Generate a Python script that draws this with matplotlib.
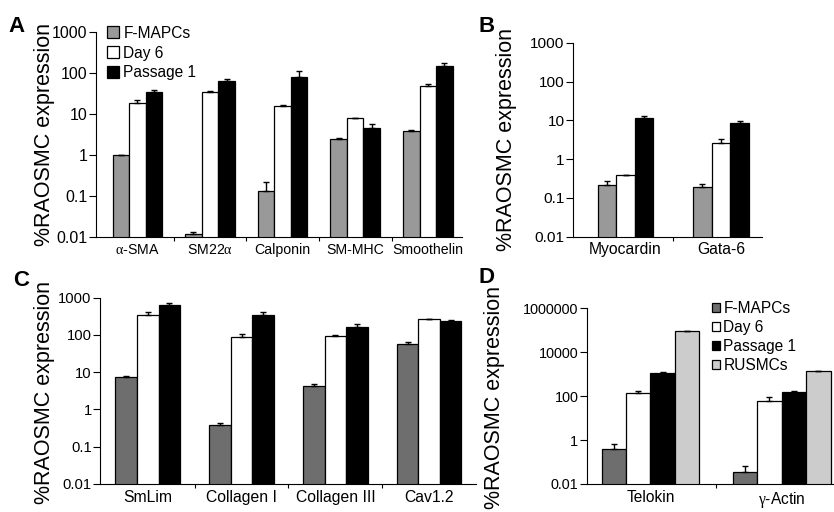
import numpy as np
import matplotlib
matplotlib.use('Agg')
from matplotlib import pyplot as plt

plt.rcParams['font.family'] = ['Liberation Sans', 'DejaVu Sans']
plt.rcParams['mathtext.fontset'] = 'custom'
plt.rcParams['mathtext.rm'] = 'Liberation Serif'
plt.rcParams['mathtext.it'] = 'Liberation Serif:italic'

# panel A
genes_a = [r'$\mathrm{\alpha}$-SMA', r'SM22$\mathrm{\alpha}$', 'Calponin', 'SM-MHC', 'Smoothelin']
fmapc_a = [1.0, 0.012, 0.13, 2.4, 3.9]
fmapc_a_err = [0.0, 0.001, 0.09, 0.2, 0.2]
day6_a = [19, 34, 15.5, 7.9, 48]
day6_a_err = [3, 3, 1.2, 0.3, 7]
p1_a = [34, 63, 81, 4.5, 146]
p1_a_err = [5, 10, 29, 1.2, 29]

# panel B
genes_b = ['Myocardin', 'Gata-6']
fmapc_b = [0.22, 0.195]
fmapc_b_err = [0.06, 0.035]
day6_b = [0.38, 2.6]
day6_b_err = [0.01, 0.6]
p1_b = [11.5, 8.5]
p1_b_err = [1.4, 1.1]

# panel C
genes_c = ['SmLim', 'Collagen I', 'Collagen III', 'Cav1.2']
fmapc_c = [7.6, 0.39, 4.3, 58]
fmapc_c_err = [0.3, 0.04, 0.4, 8]
day6_c = [344, 88, 92, 263]
day6_c_err = [60, 16, 10, 10]
p1_c = [640, 344, 166, 233]
p1_c_err = [60, 60, 30, 20]

# panel D
genes_d = ['Telokin', r'$\mathrm{\gamma}$-Actin']
fmapc_d = [0.39, 0.035]
fmapc_d_err = [0.3, 0.033]
day6_d = [135, 63]
day6_d_err = [38, 27]
p1_d = [1100, 155]
p1_d_err = [100, 25]
rus_d = [89000, 1350]
rus_d_err = [6000, 100]

names = ['F-MAPCs', 'Day 6', 'Passage 1', 'RUSMCs']

fig = plt.figure(figsize=(8.34, 5.12), dpi=100)


def panel(rect, genes, series, errs, colors, width, xlim, ylim, yticks, yticklabels,
          xfs, yfs, label_xy):
    ax = fig.add_axes(rect)
    x = np.arange(len(genes))
    n = len(series)
    for i, (vals, err, c) in enumerate(zip(series, errs, colors)):
        pos = x + (i - (n - 1) / 2) * width
        ax.bar(pos, vals, width, color=c, edgecolor='black', linewidth=0.9,
               label=names[i], zorder=2)
        ax.errorbar(pos, vals, yerr=[np.zeros(len(vals)), err], fmt='none',
                    ecolor='black', elinewidth=1, capsize=2, capthick=1, zorder=3)
    ax.set_yscale('log')
    ax.set_ylim(*ylim)
    ax.set_xlim(*xlim)
    ax.set_yticks(yticks)
    ax.set_yticklabels(yticklabels, fontsize=yfs)
    ax.minorticks_off()
    ax.set_xticks(x)
    ax.set_xticklabels(genes, fontsize=xfs)
    ax.tick_params(axis='x', length=0, pad=4)
    ax.tick_params(axis='y', length=5, width=0.8, pad=1)
    # small ticks between the gene groups
    ax.set_xticks(x[:-1] + 0.5, minor=True)
    ax.tick_params(axis='x', which='minor', length=3, width=0.8)
    for s in ['top', 'right']:
        ax.spines[s].set_visible(False)
    for s in ['left', 'bottom']:
        ax.spines[s].set_linewidth(0.8)
    ax.set_ylabel('%RAOSMC expression', fontsize=15.5)
    ax.yaxis.set_label_coords(*label_xy)
    return ax


dec = [0.01, 0.1, 1, 10, 100, 1000]
dec_lab = ['0.01', '0.1', '1', '10', '100', '1000']

axA = panel([0.1151, 0.5371, 0.4388, 0.4004], genes_a, [fmapc_a, day6_a, p1_a],
            [fmapc_a_err, day6_a_err, p1_a_err], ['#999999', 'white', 'black'],
            0.228, (-0.57, 4.47), (0.01, 1000), dec, dec_lab, 10.2, 11.5,
            (-0.112, 0.5))
axA.legend(loc='upper left', bbox_to_anchor=(0.03, 1.03), frameon=False, fontsize=11.2,
           handlelength=0.8, handleheight=0.8, handletextpad=0.25, labelspacing=0.3,
           borderpad=0, borderaxespad=0)

axB = panel([0.6871, 0.5377, 0.2266, 0.3789], genes_b, [fmapc_b, day6_b, p1_b],
            [fmapc_b_err, day6_b_err, p1_b_err], ['#999999', 'white', 'black'],
            0.194, (-0.55, 1.43), (0.01, 1000), dec, dec_lab, 11.3, 11.1,
            (-0.296, 0.5))

axC = panel([0.1199, 0.0547, 0.4508, 0.3639], genes_c, [fmapc_c, day6_c, p1_c],
            [fmapc_c_err, day6_c_err, p1_c_err], ['#6e6e6e', 'white', 'black'],
            0.23, (-0.51, 3.5), (0.01, 1000), dec, dec_lab, 11.3, 10.6,
            (-0.12, 0.49))

axD = panel([0.7035, 0.0547, 0.3125, 0.3432], genes_d, [fmapc_d, day6_d, p1_d, rus_d],
            [fmapc_d_err, day6_d_err, p1_d_err, rus_d_err],
            ['#6e6e6e', 'white', 'black', '#cccccc'],
            0.186, (-0.485, 1.5), (0.01, 1e6), [0.01, 1, 100, 1e4, 1e6],
            ['0.01', '1', '100', '10000', '1000000'], 11.2, 10.4,
            (-0.313, 0.49))
axD.legend(loc='upper left', bbox_to_anchor=(0.48, 1.04), frameon=False, fontsize=11.2,
           handlelength=0.55, handleheight=0.55, handletextpad=0.2, labelspacing=0.25,
           borderpad=0, borderaxespad=0)

for lab, px, py in [('A', 8, 32), ('B', 478, 32), ('C', 13, 286), ('D', 478, 283)]:
    fig.text(px / 834, 1 - py / 512, lab, fontsize=16, fontweight='bold',
             ha='left', va='baseline')

fig.savefig('out.png', dpi=100)
